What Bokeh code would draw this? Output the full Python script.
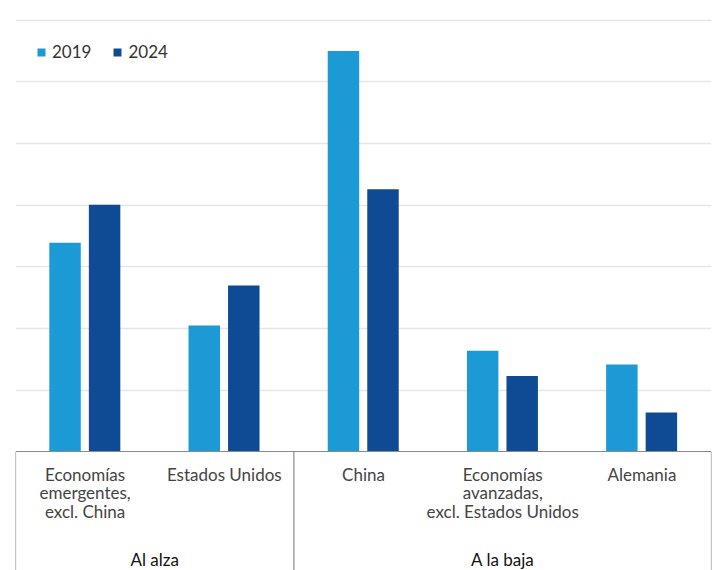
from bokeh.plotting import figure
from bokeh.models import (ColumnDataSource, FactorRange, Range1d, FixedTicker,
                          Legend, LegendItem)
from bokeh.core.properties import value
from bokeh.transform import dodge
from bokeh.embed import file_html
from bokeh.resources import INLINE

# ---- data ----
groups = ["Al alza", "Al alza", "A la baja", "A la baja", "A la baja"]
categories = ["Economías\nemergentes,\nexcl. China", "Estados Unidos", "China",
              "Economías\navanzadas,\nexcl. Estados Unidos", "Alemania"]
years = ["2019", "2024"]
v2019 = [3.39, 2.05, 6.50, 1.64, 1.42]
v2024 = [4.01, 2.70, 4.26, 1.23, 0.64]
grid_ticks = [1, 2, 3, 4, 5, 6, 7]

# ---- style ----
C2019 = "#1b9ad6"
C2024 = "#0e4b94"
FONT = "Lato"
GROUP_LABEL_Y = -1.743   # vertical placement of the group captions (below the axis)

src = ColumnDataSource(data=dict(x=categories, v2019=v2019, v2024=v2024))

x_range = FactorRange(*categories, range_padding=0, factor_padding=0)
y_range = Range1d(-1.921, 7.319)

p = figure(x_range=x_range, y_range=y_range, width=712, height=570,
           output_backend="svg", toolbar_location=None,
           min_border_left=15, min_border_right=1, min_border_top=0,
           min_border_bottom=0)
p.outline_line_color = None
p.background_fill_color = "white"

r1 = p.vbar(x=dodge("x", -0.144, range=x_range), top="v2019", bottom=0,
            width=0.226, source=src, fill_color=C2019, line_color=None)
r2 = p.vbar(x=dodge("x", 0.140, range=x_range), top="v2024", bottom=0,
            width=0.226, source=src, fill_color=C2024, line_color=None)

# group spans derived from the groups list
group_names, group_first, group_count = [], [], []
for i, g in enumerate(groups):
    if not group_names or group_names[-1] != g:
        group_names.append(g)
        group_first.append(i)
        group_count.append(0)
    group_count[-1] += 1

# box lines below the baseline: left edge of every group plus the right edge
edge_x = [[categories[f], -0.5] for f in group_first] + [[categories[-1], 0.5]]
edges = ColumnDataSource(dict(x0=edge_x, x1=edge_x,
                              y0=[0] * len(edge_x),
                              y1=[y_range.start] * len(edge_x)))
p.segment(x0="x0", y0="y0", x1="x1", y1="y1", source=edges,
          line_color="#8a8a8a", line_width=1.2)

# group captions centred under their categories
gl = ColumnDataSource(dict(
    x=[[categories[f], (n - 1) / 2] for f, n in zip(group_first, group_count)],
    y=[GROUP_LABEL_Y] * len(group_names),
    text=group_names))
p.text(x="x", y="y", text="text", source=gl, text_align="center",
       text_baseline="middle", text_font=value(FONT), text_font_size="17px",
       text_color="#111111")

# axes
p.yaxis.visible = False
p.ygrid.ticker = FixedTicker(ticks=grid_ticks)
p.ygrid.grid_line_color = "#e6e6e6"
p.ygrid.grid_line_width = 1.5
p.xgrid.grid_line_color = None

ax = p.xaxis[0]
ax.fixed_location = 0
ax.axis_line_color = "#8a8a8a"
ax.axis_line_width = 1.2
ax.major_tick_line_color = None
ax.minor_tick_line_color = None
ax.major_tick_out = 0
ax.major_tick_in = 0
ax.major_label_standoff = 12
ax.major_label_text_font = FONT
ax.major_label_text_font_size = "17px"
ax.major_label_text_line_height = 0.88
ax.major_label_text_color = "#444444"

legend = Legend(items=[LegendItem(label=years[0], renderers=[r1]),
                       LegendItem(label=years[1], renderers=[r2])],
                orientation="horizontal", location=(21, 508),
                glyph_width=10, glyph_height=10, label_standoff=6,
                spacing=21, padding=0, margin=0,
                label_text_font=FONT, label_text_font_size="17px",
                label_text_color="#333333",
                background_fill_alpha=0, border_line_color=None)
p.add_layout(legend, "center")

open("out.html", "w").write(file_html(p, INLINE))
